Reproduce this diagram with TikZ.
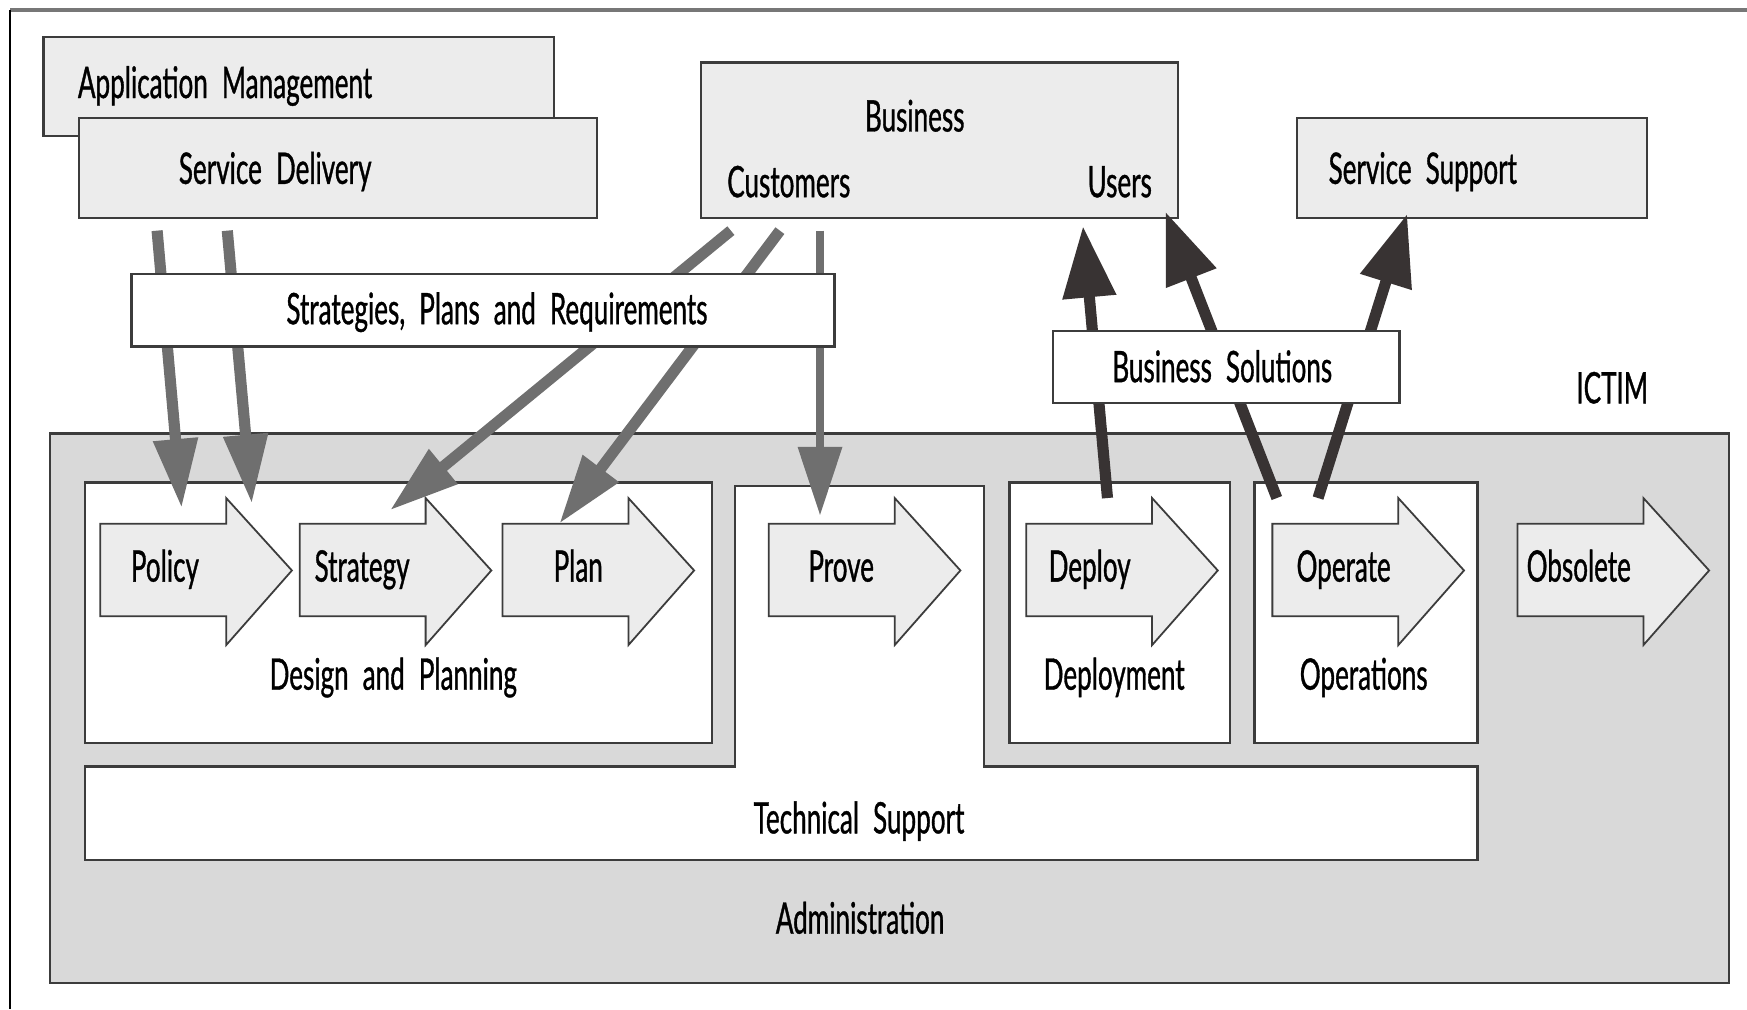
\documentclass[tikz,border=0pt]{standalone}
\usepackage{fontspec}
\setmainfont[FakeStretch=0.6,WordSpace=2.1,FakeBold=0.8]{Lato}
\usetikzlibrary{arrows.meta}

\definecolor{boxfill}{HTML}{ECECEC}
\definecolor{adminfill}{HTML}{D9D9D9}
\definecolor{edge}{HTML}{3C3C3C}
\definecolor{feedgray}{HTML}{6F6F6F}
\definecolor{retdark}{HTML}{383333}
\definecolor{framegray}{HTML}{777777}

\tikzset{
  box/.style={draw=edge, line width=1pt, fill=boxfill},
  whitebox/.style={draw=edge, line width=1pt, fill=white},
  adminbox/.style={draw=edge, line width=1pt, fill=adminfill},
  lbl/.style={anchor=base, inner sep=0pt},
  arrowshape/.style={draw=edge, line width=0.8pt, fill=boxfill},
  blockarrow/.pic={
    \path[arrowshape] (0,-42) -- (113,-42) -- (113,-65) -- (172,0)
      -- (113,67) -- (113,41) -- (0,41) -- cycle;
  },
  feed/.style={draw=feedgray, line width=5pt,
    -{Triangle[width=19pt,length=31pt]}},
  ret/.style={draw=retdark, line width=5pt,
    -{Triangle[width=23pt,length=32pt]}}
}

\begin{document}
\begin{tikzpicture}[x=0.5pt,y=-0.5pt,font=\fontsize{19.5}{22}\selectfont]
\useasboundingbox (0,0) rectangle (1568,906);

% page frame
\draw[framegray, line width=1.5pt] (9,9) -- (1568,9);
\draw[black, line width=0.7pt] (9,9) -- (9,906);

% groups above the lifecycle
\path[box] (39,33) rectangle (497,122);
\path[box] (71,106) rectangle (536,196);
\path[box] (629,56) rectangle (1057,196);
\path[box] (1164,106) rectangle (1478,196);

% ICTIM area
\path[adminbox] (45,389) rectangle (1552,882);
\path[whitebox] (76,433) rectangle (639,667);
\path[whitebox] (76,688) -- (660,688) -- (660,436) -- (883,436) -- (883,688)
  -- (1326,688) -- (1326,772) -- (76,772) -- cycle;
\path[whitebox] (906,433) rectangle (1104,667);
\path[whitebox] (1126,433) rectangle (1326,667);

% lifecycle stages
\pic (policyarrow)   at (90,512)   {blockarrow};
\pic (strategyarrow) at (269,512)  {blockarrow};
\pic (planarrow)     at (451,512)  {blockarrow};
\pic (provearrow)    at (690,512)  {blockarrow};
\pic (deployarrow)   at (921,512)  {blockarrow};
\pic (operatearrow)  at (1142,512) {blockarrow};
\pic (obsoletearrow) at (1362,512) {blockarrow};

% connector end points
\coordinate (sd1) at (141,207);
\coordinate (sd2) at (204,207);
\coordinate (cu1) at (656,207);
\coordinate (cu2) at (700,207);
\coordinate (cu3) at (736,207);
\coordinate (po1) at (163,456);
\coordinate (po2) at (226,452);
\coordinate (st)  at (350,458);
\coordinate (pl)  at (502,470);
\coordinate (pr)  at (736,463);
\coordinate (de)  at (994,447);
\coordinate (op1) at (1146,447);
\coordinate (op2) at (1183,447);
\coordinate (us1) at (972,203);
\coordinate (us2) at (1046,190);
\coordinate (ss)  at (1263,192);

% strategies, plans and requirements flowing down
\draw[feed] (sd1) -- (po1);
\draw[feed] (sd2) -- (po2);
\draw[feed] (cu1) -- (st);
\draw[feed] (cu2) -- (pl);
\draw[feed, line width=4pt] (cu3) -- (pr);

% business solutions flowing up
\draw[ret] (de) -- (us1);
\draw[ret] (op1) -- (us2);
\draw[ret] (op2) -- (ss);

% banners over the flows
\path[whitebox] (118,246) rectangle (749,311);
\path[whitebox] (945,297) rectangle (1256,362);

% labels
\node[lbl] (appmgmt)   at (202,88)   {Application Management};
\node[lbl] (servdel)   at (247,165)  {Service Delivery};
\node[lbl] (business)  at (821,118)  {Business};
\node[lbl] (customers) at (708,177)  {Customers};
\node[lbl] (users)     at (1005,177) {Users};
\node[lbl] (servsup)   at (1277,165) {Service Support};
\node[lbl] (spr)       at (446,291)  {Strategies, Plans and Requirements};
\node[lbl] (bsol)      at (1097,343) {Business Solutions};
\node[lbl] (ictim)     at (1447,362) {ICTIM};
\node[lbl] (policy)    at (148,522)  {Policy};
\node[lbl] (strategy)  at (325,522)  {Strategy};
\node[lbl] (plan)      at (519,522)  {Plan};
\node[lbl] (prove)     at (755,522)  {Prove};
\node[lbl] (deploy)    at (978,522)  {Deploy};
\node[lbl] (operate)   at (1206,522) {Operate};
\node[lbl] (obsolete)  at (1417,522) {Obsolete};
\node[lbl] (design)    at (353,619)  {Design and Planning};
\node[lbl] (deployment) at (1000,619) {Deployment};
\node[lbl] (operations) at (1224,619) {Operations};
\node[lbl] (techsup)   at (771,748)  {Technical Support};
\node[lbl] (admin)     at (772,838)  {Administration};
\end{tikzpicture}
\end{document}
